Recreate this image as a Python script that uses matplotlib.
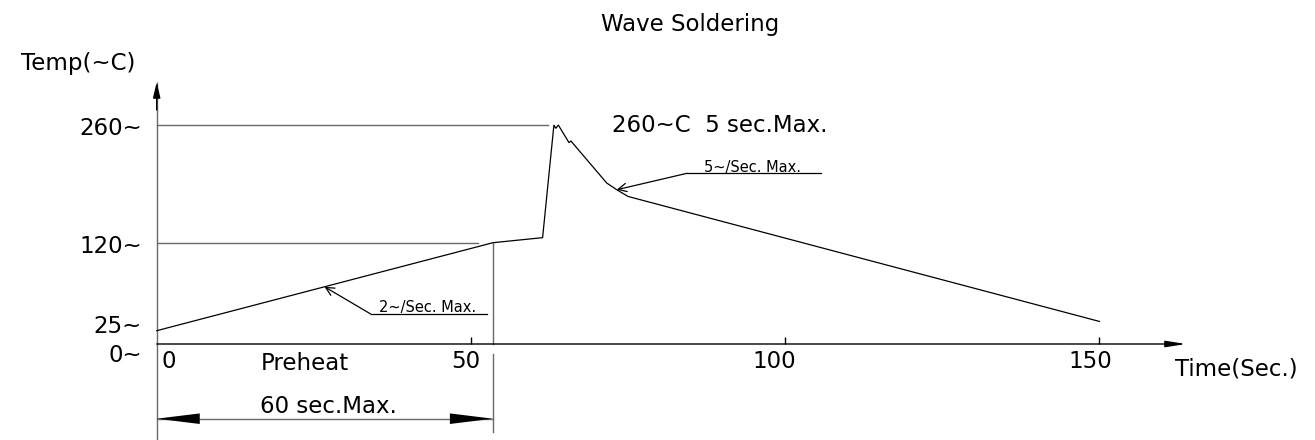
import numpy as np
import matplotlib
matplotlib.use("Agg")
import matplotlib.pyplot as plt
from matplotlib.transforms import Affine2D, blended_transform_factory

# ---------------- data ----------------
time_s = [0, 53.5, 61.4, 63.2, 63.5, 63.9, 65.6, 65.9, 71.6, 73.2, 75.0, 150]
temp_c = [25, 120, 126, 260, 256, 260, 239, 241, 191, 183, 175, 35]

x_ticks = [0, 50, 100, 150]
x_tick_labels = ["0", "50", "100", "150"]
y_ticks = [0, 25, 120, 260]
y_tick_labels = ["0~", "25~", "120~", "260~"]

preheat_end_s = 53.5      # end of the "60 sec.Max." preheat window
preheat_temp_c = 120
peak_temp_c = 260
preheat_guide_end_s = 51.1
peak_guide_end_s = 62.3
ramp_note_s = 26.7        # where the "2~/Sec. Max." note points
cool_note_idx = 9         # point the "5~/Sec. Max." note points to

# schematic (non-linear) temperature scale used by the drawing
temp_anchor = [-200, 0, 25, 120, 260, 500]
temp_screen = [-10.4, 96, 109.3, 197.3, 315, 516.8]

W, H = 1315, 440
plt.rcParams["font.family"] = ["DejaVu Sans"]
fig = plt.figure(figsize=(W / 100, H / 100), dpi=100)
ax = fig.add_axes([0, 0, 1, 1])

fwd = lambda v: np.interp(v, temp_anchor, temp_screen)
inv = lambda u: np.interp(u, temp_screen, temp_anchor)
ax.set_yscale("function", functions=(fwd, inv))
ax.set_ylim(inv(0), inv(H))
px_per_s = 6.285
x0_px = 156.7
ax.set_xlim(-x0_px / px_per_s, (W - x0_px) / px_per_s)
ax.axis("off")

PX = Affine2D().scale(1, -1).translate(0, H)          # pixel coords, y from top
XD = blended_transform_factory(ax.transData, PX)      # data x, pixel y

GRAY = "#6a6a6a"
FS = 16.5
FS_SMALL = 10.5

# ---- axes lines ----
y_tip = inv(H - 82)
ax.plot([0, 0], [inv(0), y_tip], color=GRAY, lw=1.0, solid_capstyle="butt")
ax.annotate("", xy=(0, y_tip), xytext=(0, inv(H - 110)),
            arrowprops=dict(arrowstyle="-|>,head_length=0.94,head_width=0.22",
                            color="black", lw=1.0, shrinkA=0, shrinkB=0,
                            mutation_scale=10))
x_tip = (1186 - x0_px) / px_per_s
ax.annotate("", xy=(x_tip, 0), xytext=(0, 0),
            arrowprops=dict(arrowstyle="-|>,head_length=1.2,head_width=0.19",
                            color="black", lw=1.0, shrinkA=0, shrinkB=0,
                            mutation_scale=10))
ax.plot(x_ticks[1:], [0] * (len(x_ticks) - 1), ls="none", marker=2, ms=5,
        mew=1.0, color="black")

# tick labels
x_offsets = [12.3, -4.7, -10.5, -9.3]
for xv, lab, dx in zip(x_ticks, x_tick_labels, x_offsets):
    ax.annotate(lab, xy=(xv, 0), xytext=(dx, -24), textcoords="offset pixels",
                ha="center", va="baseline", fontsize=FS)
y_offsets = [-17.7, -2.3, -10.3, -10]
for yv, lab, dy in zip(y_ticks, y_tick_labels, y_offsets):
    ax.annotate(lab, xy=(0, yv), xytext=(-15, dy), textcoords="offset pixels",
                ha="right", va="baseline", fontsize=FS)

# ---- guide lines ----
ax.plot([0, peak_guide_end_s], [peak_temp_c] * 2, color=GRAY, lw=1.0)
ax.plot([0, preheat_guide_end_s], [preheat_temp_c] * 2, color=GRAY, lw=1.0)
ax.plot([preheat_end_s] * 2, [preheat_temp_c, 0], color=GRAY, lw=1.0)
ax.plot([preheat_end_s] * 2, [354, 431.7], color=GRAY, lw=1.0, transform=XD)

# ---- profile curve ----
ax.plot(time_s, temp_c, color="black", lw=0.9, solid_joinstyle="miter")

# ---- preheat window dimension arrow ----
ax.plot([0, preheat_end_s], [418.7, 418.7], color=GRAY, lw=1.0, transform=XD)
ax.annotate("", xy=(preheat_end_s, 418.7), xycoords=XD,
            xytext=(0, 418.7), textcoords=XD,
            arrowprops=dict(arrowstyle="<|-|>,head_length=3.1,head_width=0.38",
                            color="black", lw=0, shrinkA=0, shrinkB=0,
                            mutation_scale=10))

# ---- rate notes ----
ramp_tip = (ramp_note_s, float(np.interp(ramp_note_s, time_s, temp_c)))
ax.annotate("", xy=ramp_tip, xytext=(370.7, 314), textcoords=PX,
            arrowprops=dict(arrowstyle="->,head_length=0.6,head_width=0.3",
                            color="black", lw=0.9, shrinkA=0, shrinkB=0,
                            mutation_scale=10))
ax.plot([370.7, 486.8], [314, 314], color="black", lw=0.9, transform=PX)
fig.text(427.5, 312, "2~/Sec. Max.", transform=PX, ha="center",
         va="baseline", fontsize=FS_SMALL)

cool_tip = (time_s[cool_note_idx], temp_c[cool_note_idx])
ax.annotate("", xy=cool_tip, xytext=(687, 173.3), textcoords=PX,
            arrowprops=dict(arrowstyle="->,head_length=0.6,head_width=0.3",
                            color="black", lw=0.9, shrinkA=0, shrinkB=0,
                            mutation_scale=10))
ax.plot([687, 821], [173.3, 173.3], color="black", lw=0.9, transform=PX)
fig.text(752, 171.5, "5~/Sec. Max.", transform=PX, ha="center",
         va="baseline", fontsize=FS_SMALL)

# ---- other texts ----
fig.text(690.5, 31, "Wave Soldering", transform=PX, ha="center",
         va="baseline", fontsize=FS)
fig.text(78.5, 70, "Temp(~C)", transform=PX, ha="center", va="baseline",
         fontsize=FS)
fig.text(720, 131.7, "260~C  5 sec.Max.", transform=PX, ha="center",
         va="baseline", fontsize=FS)
fig.text(305, 370, "Preheat", transform=PX, ha="center", va="baseline",
         fontsize=FS)
fig.text(328.5, 413, "60 sec.Max.", transform=PX, ha="center",
         va="baseline", fontsize=FS)
fig.text(1236.5, 375, "Time(Sec.)", transform=PX, ha="center",
         va="baseline", fontsize=FS)

fig.savefig("out.png", dpi=100)
